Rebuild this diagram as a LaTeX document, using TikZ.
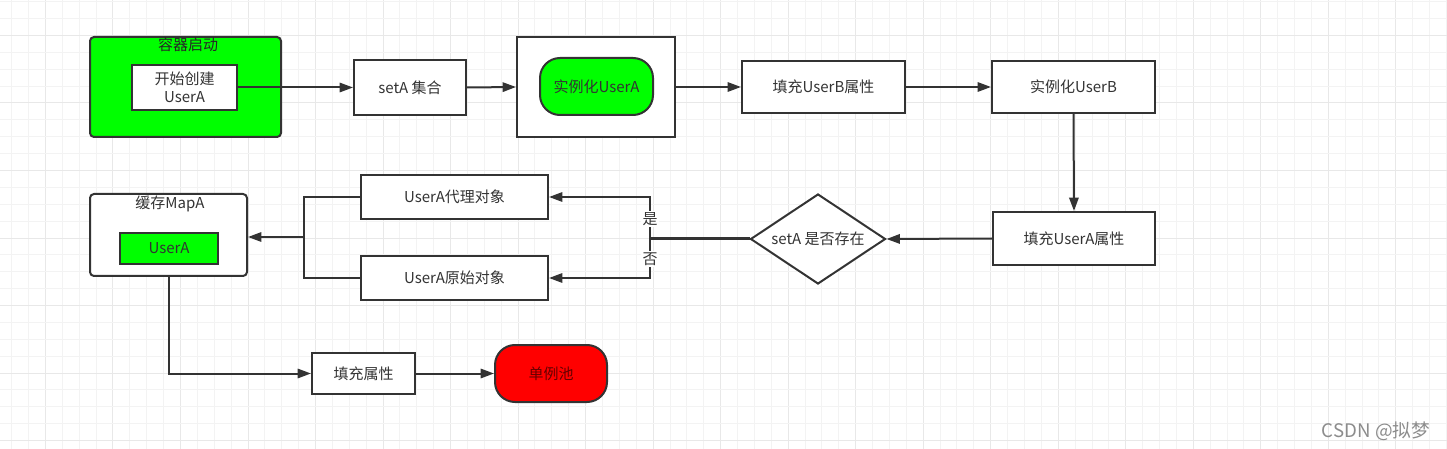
\documentclass[tikz,border=0pt]{standalone}
\usepackage{fontspec}
\setmainfont{Noto Sans CJK SC}
\usetikzlibrary{arrows.meta,shapes.geometric}
\definecolor{ln}{HTML}{333333}
\definecolor{gminor}{HTML}{F3F3F3}
\definecolor{gmajor}{HTML}{E8E8E8}
\definecolor{vgreen}{HTML}{00FF00}
\definecolor{vred}{HTML}{FF0000}
\definecolor{poolt}{HTML}{660000}
\tikzset{
  box/.style={draw=ln, line width=1.5pt, fill=white, text=ln, font=\fontsize{11.25pt}{13.5pt}\selectfont, inner sep=0pt, align=center},
  gbox/.style={box, fill=vgreen},
  pill/.style={box, rounded corners=15pt},
  conn/.style={draw=ln, line width=1.5pt},
  arr/.style={conn, -{Triangle[length=10pt,width=7pt]}},
  lbl/.style={text=ln, font=\fontsize{11.25pt}{13.5pt}\selectfont, inner sep=1pt},
}
\begin{document}
\begin{tikzpicture}[x=0.75pt,y=-0.75pt]
\useasboundingbox (0,0) rectangle (1447,449);
\fill[white] (0,0) rectangle (1447,449);
% grid
\foreach \i in {0,...,85} {
  \pgfmathsetmacro{\gx}{11.7+16.88*\i}
  \pgfmathtruncatemacro{\m}{mod(\i,4)}
  \ifnum\m=2 \draw[gmajor,line width=0.75pt] (\gx,0) -- (\gx,449);
  \else \draw[gminor,line width=0.75pt] (\gx,0) -- (\gx,449); \fi
}
\foreach \i in {0,...,26} {
  \pgfmathsetmacro{\gy}{1.7+16.88*\i}
  \pgfmathtruncatemacro{\m}{mod(\i,4)}
  \ifnum\m=2 \draw[gmajor,line width=0.75pt] (0,\gy) -- (1447,\gy);
  \else \draw[gminor,line width=0.75pt] (0,\gy) -- (1447,\gy); \fi
}
% top row
\node[gbox, rounded corners=3pt, minimum width=143.25pt, minimum height=75pt] (cont) at (185.5,87) {};
\node[lbl, text=black!85] (contt) at (188,45) {容器启动};
\node[box, minimum width=78.75pt, minimum height=33.75pt] (start) at (184.5,87.5) {开始创建\\UserA};
\node[box, minimum width=84pt, minimum height=41.25pt] (seta) at (410,87.5) {setA 集合};
\node[box, minimum width=118.5pt, minimum height=75pt] (outer) at (596,87) {};
\node[pill, fill=vgreen, minimum width=84.75pt, minimum height=42.75pt] (insta) at (596.5,86.5) {实例化UserA};
\node[box, minimum width=122.25pt, minimum height=39pt] (fillb) at (823.5,87) {填充UserB属性};
\node[box, minimum width=122.25pt, minimum height=39pt] (instb) at (1073.5,87) {实例化UserB};
% middle row
\node[box, minimum width=121.5pt, minimum height=39.75pt] (filla) at (1074,238.5) {填充UserA属性};
\node[box, shape=diamond, aspect=1.5, minimum width=101.25pt, minimum height=67.5pt] (dia) at (818,239) {setA 是否存在};
\node[box, minimum width=140.25pt, minimum height=33pt] (proxy) at (454.5,197) {UserA代理对象};
\node[box, minimum width=140.25pt, minimum height=33pt] (orig) at (454.5,278) {UserA原始对象};
\node[box, rounded corners=3pt, minimum width=117.75pt, minimum height=61.5pt] (cache) at (168.5,235) {};
\node[lbl] (cachet) at (170,204) {缓存MapA};
\node[gbox, minimum width=73.5pt, minimum height=23.25pt] (ua) at (169,248.5) {UserA};
% bottom row
\node[box, minimum width=77.25pt, minimum height=30.75pt] (fill) at (363.5,373.5) {填充属性};
\node[pill, fill=vred, text=poolt, minimum width=84pt, minimum height=42.75pt] (pool) at (551,373.5) {单例池};
% connectors
\draw[arr] (start.east) -- (seta.west);
\draw[arr] (seta.east) -- (outer.west);
\draw[arr] (outer.east) -- (fillb.west);
\draw[arr] (fillb.east) -- (instb.west);
\draw[arr] (instb.south) -- (filla.north);
\draw[arr] (filla.west) -- (dia.east);
\coordinate (split) at (650,239);
\draw[conn, line width=2.25pt] (dia.west) -- (split);
\draw[arr] (split) |- (proxy.east);
\draw[arr] (split) |- (orig.east);
\node[lbl, fill=white] (yes) at (650,219) {是};
\node[lbl, fill=white] (no) at (650,259) {否};
\coordinate (join) at (304,237);
\draw[conn] (proxy.west) -| (join);
\draw[conn] (orig.west) -| (join);
\draw[arr] (join) -- (cache.east |- join);
\draw[arr] (cache.south) |- (fill.west);
\draw[arr] (fill.east) -- (pool.west);
% watermark
\node[lbl, text=black!45, font=\fontsize{14pt}{16pt}\selectfont] (wm) at (1376,431) {CSDN @拟梦};
\end{tikzpicture}
\end{document}
